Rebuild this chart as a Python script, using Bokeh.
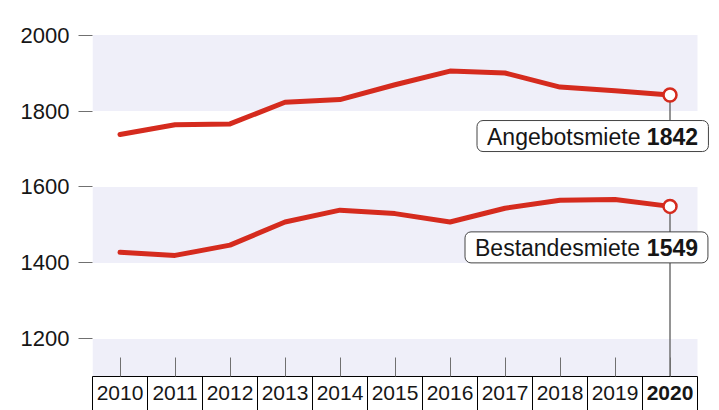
from bokeh.plotting import figure
from bokeh.models import Range1d, FixedTicker, BoxAnnotation, Label, LinearAxis
from bokeh.embed import file_html
from bokeh.resources import INLINE

# ---- data ----
years = list(range(2010, 2021))
angebot = [1738, 1764, 1766, 1823, 1830, 1869, 1905, 1900, 1863, 1853, 1842]
bestand = [1428, 1420, 1447, 1508, 1539, 1530, 1508, 1544, 1565, 1567, 1549]
series_names = ["Angebotsmiete", "Bestandesmiete"]
y_ticks = [1200, 1400, 1600, 1800, 2000]
band_bottom = [1800, 1400, None]
band_top = [2000, 1600, 1200]
box_edges = [y - 0.5 for y in years] + [years[-1] + 0.5]

FONT = "Liberation Sans"
RED = "#d52b1e"
BAND = "#efeff9"
GRAY = "#707070"
INK = "#161616"

W, H = 719, 410
LEFT, BOTTOM = 92, 34
PX_PER_YEAR = 55.0
X_END = box_edges[0] + (W - LEFT) / PX_PER_YEAR
Y_END, Y_START = 2090.8, 1101.3

p = figure(width=W, height=H, output_backend="svg", toolbar_location=None,
           x_range=Range1d(box_edges[0], X_END),
           y_range=Range1d(Y_START, Y_END),
           min_border_left=LEFT, min_border_right=0, min_border_top=0,
           min_border_bottom=BOTTOM)
p.outline_line_color = None
p.grid.visible = False
p.background_fill_color = "white"
p.border_fill_color = "white"

for b, t in zip(band_bottom, band_top):
    kw = dict(top=t, right=box_edges[-1], fill_color=BAND, fill_alpha=1,
              line_color=None, level="underlay")
    if b is not None:
        kw["bottom"] = b
    p.add_layout(BoxAnnotation(**kw))

# y axis
ya = p.yaxis[0]
ya.ticker = FixedTicker(ticks=y_ticks)
ya.axis_line_color = None
ya.major_tick_out = 14
ya.major_tick_in = 0
ya.major_tick_line_color = GRAY
ya.minor_tick_line_color = None
ya.major_label_standoff = 9
ya.major_label_text_font = FONT
ya.major_label_text_font_size = "22px"
ya.major_label_text_color = INK

# x axis (year boxes)
xa = p.xaxis[0]
xa.ticker = FixedTicker(ticks=years, minor_ticks=box_edges)
xa.bounds = (box_edges[0], box_edges[-1])
xa.axis_line_color = "black"
xa.axis_line_width = 1
xa.major_tick_in = 19
xa.major_tick_out = 0
xa.major_tick_line_color = GRAY
xa.minor_tick_in = 0
xa.minor_tick_out = 40
xa.minor_tick_line_color = "black"
xa.major_label_standoff = -31
xa.major_label_text_font = FONT
xa.major_label_text_font_size = "21px"
xa.major_label_text_color = INK
xa.major_label_overrides = {years[-1]: ""}

# second axis only for the bold last year
xb = LinearAxis(ticker=FixedTicker(ticks=[years[-1]], minor_ticks=[]))
xb.axis_line_color = None
xb.major_tick_line_color = None
xb.minor_tick_line_color = None
xb.major_tick_in = 0
xb.major_tick_out = 0
xb.major_label_standoff = -17
xb.major_label_text_font = FONT
xb.major_label_text_font_size = "21px"
xb.major_label_text_font_style = "bold"
xb.major_label_text_color = INK
p.add_layout(xb, "below")

# connector lines
p.segment(x0=[years[-1]], y0=[angebot[-1]], x1=[years[-1]], y1=[angebot[-1] - 80],
          line_color=GRAY, line_width=1.5)
p.segment(x0=[years[-1]], y0=[bestand[-1]], x1=[years[-1]], y1=[Y_START],
          line_color=GRAY, line_width=1.5)

# lines
for vals in (angebot, bestand):
    p.line(years, vals, line_color=RED, line_width=5, line_join="round", line_cap="round")
    p.scatter([years[-1]], [vals[-1]], size=13, fill_color="white", line_color=RED,
              line_width=2.5)

# labels
for name, vals, xoff in zip(series_names, (angebot, bestand), (-193, -205)):
    p.add_layout(Label(x=years[-1], y=vals[-1], text=name, x_offset=xoff, y_offset=-41,
                       text_font=FONT, text_font_size="23px", text_color=INK,
                       text_align="left", text_baseline="middle",
                       background_fill_color="white", border_line_color="#444444",
                       border_line_width=1, border_radius=6,
                       padding=(10, 68, 3, 2)))
    p.add_layout(Label(x=years[-1], y=vals[-1], text=str(vals[-1]), x_offset=28, y_offset=-41,
                       text_font=FONT, text_font_size="23px", text_font_style="bold",
                       text_color=INK, text_align="right", text_baseline="middle"))

open("out.html", "w").write(file_html(p, INLINE))
